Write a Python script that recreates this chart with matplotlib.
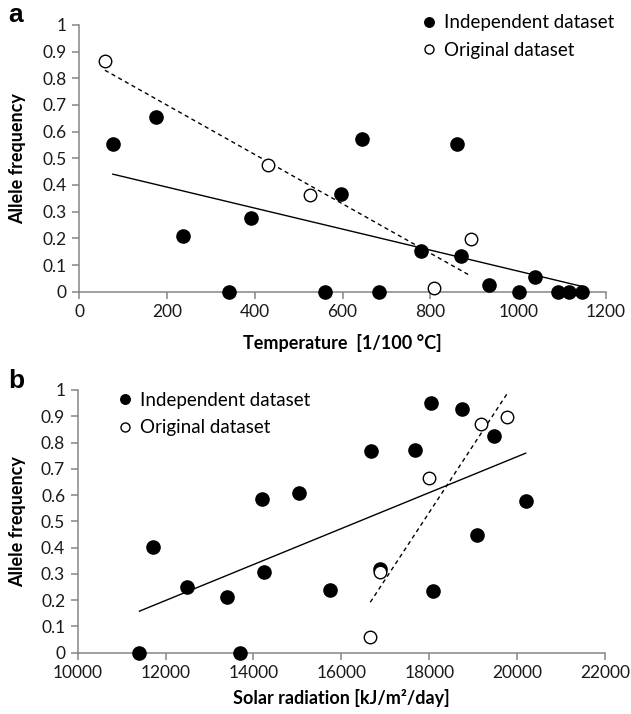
import matplotlib
matplotlib.use("Agg")
import matplotlib.pyplot as plt
import numpy as np

plt.rcParams["font.family"] = ["Lato", "DejaVu Sans"]

# Panel a: temperature vs allele frequency
temp_indep_x = [77, 176, 237, 342, 392, 560, 596, 645, 684, 779, 861, 870, 933, 1003, 1039, 1090, 1116, 1145]
temp_indep_y = [0.553, 0.656, 0.21, 0.0, 0.275, 0.0, 0.368, 0.574, 0.0, 0.151, 0.553, 0.133, 0.025, 0.0, 0.054, 0.0, 0.0, 0.0]
temp_orig_x = [59, 430, 527, 809, 893]
temp_orig_y = [0.865, 0.476, 0.363, 0.013, 0.198]
# trend lines (slope, intercept)
temp_indep_fit = (-0.000394, 0.471)
temp_orig_fit = (-0.000926, 0.885)

# Panel b: solar radiation vs allele frequency
sol_indep_x = [11406, 11724, 12480, 13407, 13691, 14187, 14236, 15033, 15748, 16683, 16870, 17683,
               18049, 18081, 18748, 19081, 19463, 20195]
sol_indep_y = [0.0, 0.401, 0.25, 0.211, 0.0, 0.584, 0.306, 0.607, 0.238, 0.766, 0.319, 0.77,
               0.949, 0.235, 0.927, 0.449, 0.826, 0.576]
sol_orig_x = [16659, 16870, 18000, 19171, 19772]
sol_orig_y = [0.059, 0.306, 0.664, 0.871, 0.899]
sol_indep_fit = (6.843e-5, -0.6225)
sol_orig_fit = (2.55e-4, -4.056)

y_ticks = [0, 0.1, 0.2, 0.3, 0.4, 0.5, 0.6, 0.7, 0.8, 0.9, 1]
y_tick_labels = ["0", "0.1", "0.2", "0.3", "0.4", "0.5", "0.6", "0.7", "0.8", "0.9", "1"]

AX_GRAY = "#858585"


def style_axes(ax):
    for side in ["top", "right"]:
        ax.spines[side].set_visible(False)
    for side in ["left", "bottom"]:
        ax.spines[side].set_color(AX_GRAY)
        ax.spines[side].set_linewidth(1.1)
    ax.tick_params(direction="out", length=5, width=1.1, color=AX_GRAY,
                   labelsize=12.5, labelcolor="#1a1a1a", pad=4)
    ax.set_ylim(0, 1)
    ax.set_yticks(y_ticks)
    ax.set_yticklabels(y_tick_labels)


def draw_panel(ax, ix, iy, ox, oy, ifit, ofit):
    xs = np.array([min(ix), max(ix)])
    ax.plot(xs, ifit[0] * xs + ifit[1], color="black", lw=1.0, zorder=2)
    xs = np.array([min(ox), max(ox)])
    ax.plot(xs, ofit[0] * xs + ofit[1], color="black", lw=1.0, ls=(0, (3, 2.5)), zorder=2)
    ax.plot(ix, iy, "o", color="black", ms=9.5, clip_on=False, zorder=3,
            label="Independent dataset")
    ax.plot(ox, oy, "o", mfc="white", mec="black", mew=1.0, ms=9, clip_on=False, zorder=4,
            label="Original dataset")


def add_legend(ax, x, y):
    ax.legend(loc="upper left", bbox_to_anchor=(x, y), frameon=False, fontsize=13.5,
              handlelength=0.7, handletextpad=0.45, labelspacing=0.55, markerscale=0.72,
              borderaxespad=0, borderpad=0)


fig = plt.figure(figsize=(6.31, 7.14), dpi=100)

ax1 = fig.add_axes([0.1252, 0.5915, 0.8352, 0.3735])
draw_panel(ax1, temp_indep_x, temp_indep_y, temp_orig_x, temp_orig_y, temp_indep_fit, temp_orig_fit)
style_axes(ax1)
ax1.set_xlim(0, 1200)
ax1.set_xticks(range(0, 1201, 200))
ax1.set_xlabel("Temperature  [1/100 \u00b0C]", fontsize=13, fontweight="bold")
ax1.set_ylabel("Allele frequency", fontsize=13, fontweight="bold")
ax1.xaxis.set_label_coords(0.5, -0.16)
ax1.yaxis.set_label_coords(-0.10, 0.5)
add_legend(ax1, 0.652, 1.04)

ax2 = fig.add_axes([0.1231, 0.0859, 0.8357, 0.3679])
draw_panel(ax2, sol_indep_x, sol_indep_y, sol_orig_x, sol_orig_y, sol_indep_fit, sol_orig_fit)
style_axes(ax2)
ax2.set_xlim(10000, 22000)
ax2.set_xticks(range(10000, 22001, 2000))
ax2.set_xlabel("Solar radiation [kJ/m\u00b2/day]", fontsize=13, fontweight="bold")
ax2.set_ylabel("Allele frequency", fontsize=13, fontweight="bold")
ax2.xaxis.set_label_coords(0.5, -0.138)
ax2.yaxis.set_label_coords(-0.098, 0.5)
add_legend(ax2, 0.078, 0.993)

fig.text(0.0127, 0.9692, "a", fontsize=19, fontweight="bold", family="Liberation Sans")
fig.text(0.0127, 0.4566, "b", fontsize=19, fontweight="bold", family="Liberation Sans")

fig.savefig("out.png", dpi=100)
